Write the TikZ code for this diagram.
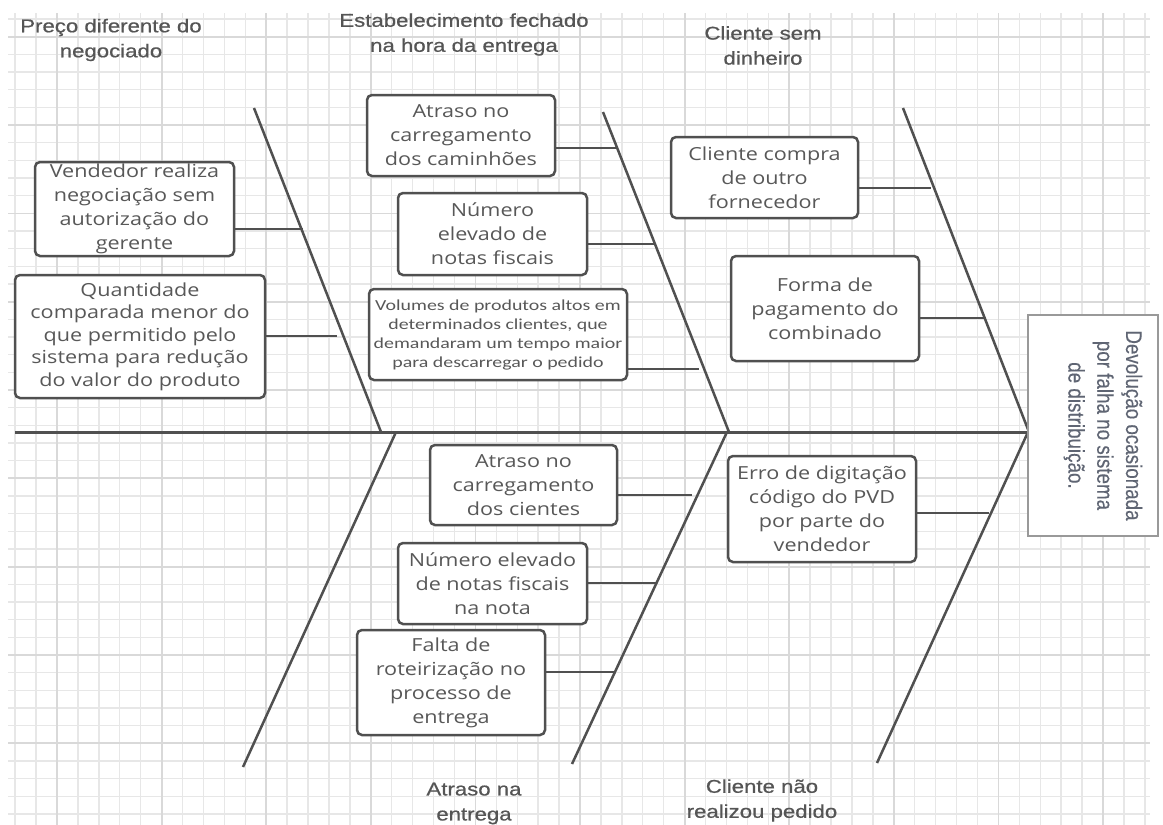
\documentclass[tikz,border=0pt]{standalone}
\usepackage{fontspec}
\usepackage{graphicx}
\setmainfont{Open Sans}[FakeStretch=1.2]
\newfontfamily\titlefont{Liberation Sans}[FakeStretch=1.2,FakeBold=0.6]
\newfontfamily\volfont{Carlito}[FakeStretch=1.3]
\newfontfamily\effectfont{Liberation Sans}[FakeBold=0.3]
\definecolor{ink}{HTML}{505050}
\definecolor{txt}{HTML}{585858}
\definecolor{ttl}{HTML}{555555}
\definecolor{gmin}{HTML}{E7E7E7}
\definecolor{gmaj}{HTML}{D9D9D9}
\definecolor{efx}{HTML}{5F6573}
\definecolor{efb}{HTML}{999999}
\begin{document}
\begin{tikzpicture}[x=1pt,y=-1pt,
  cause/.style={draw=ink, line width=2.5pt, rounded corners=5pt, fill=white, text=txt,
    align=center, inner sep=0pt, font=\fontsize{18}{24}\selectfont},
  bone/.style={draw=ink, line width=2.5pt},
  ttlstyle/.style={text=ttl, align=center, inner sep=0pt, font=\titlefont\fontsize{18.5}{25}\selectfont},
  gridminor/.style={draw=gmin, line width=1.4pt},
  gridmajor/.style={draw=gmaj, line width=1.8pt}]
\useasboundingbox (0,0) rectangle (1163,825);
\fill[white] (0,0) rectangle (1163,825);
% grid
\foreach \i in {-2,...,52} {\draw[gridminor] ({57+20.92*\i},13) -- ({57+20.92*\i},825);}
\foreach \i in {-36,...,9} {\draw[gridminor] (8,{655+17.664*\i}) -- (1150,{655+17.664*\i});}
\foreach \i in {0,...,10} {\draw[gridmajor] ({57+104.6*\i},13) -- ({57+104.6*\i},825);}
\foreach \i in {-7,...,1} {\draw[gridmajor] (8,{655+88.32*\i}) -- (1150,{655+88.32*\i});}

% skeleton coordinates
\coordinate (tail) at (15,432);
\coordinate (head) at (1028,432);
\coordinate (b1s) at (254,108);  \coordinate (b1e) at (381,432);
\coordinate (b2s) at (603,112);  \coordinate (b2e) at (729,432);
\coordinate (b3s) at (903,108);  \coordinate (b3e) at (1029,432);
\coordinate (b4s) at (396,432);  \coordinate (b4e) at (243,767);
\coordinate (b5s) at (727,432);  \coordinate (b5e) at (572,764);
\coordinate (b6s) at (1028,432); \coordinate (b6e) at (877,763);

\draw[bone, line width=3pt] (tail) -- (head);
\draw[bone] (b1s) -- (b1e);
\draw[bone] (b2s) -- (b2e);
\draw[bone] (b3s) -- (b3e);
\draw[bone] (b4s) -- (b4e);
\draw[bone] (b5s) -- (b5e);
\draw[bone] (b6s) -- (b6e);

% connector ends on the bones
\coordinate (cvend) at (303,229);
\coordinate (cquant) at (337,336);
\coordinate (ccarr) at (616,148);
\coordinate (cnum1) at (656,244);
\coordinate (cvol) at (699,369);
\coordinate (ccli) at (931,188);
\coordinate (cforma) at (986,318);
\coordinate (ccarr2) at (692,495);
\coordinate (cnum2) at (656,583);
\coordinate (cfalta) at (614,672);
\coordinate (cerro) at (989,513);

% cause boxes
\node[cause, minimum width=199pt, minimum height=94pt] (vend) at (134.5,209)
  {Vendedor realiza\\negociação sem\\autorização do\\gerente};
\node[cause, minimum width=250pt, minimum height=123pt, font=\fontsize{18}{22.5}\selectfont] (quant) at (140,336.5)
  {Quantidade\\comparada menor do\\que permitido pelo\\sistema para redução\\do valor do produto};
\node[cause, minimum width=188pt, minimum height=81pt] (carr) at (461,135.5)
  {Atraso no\\carregamento\\dos caminhões};
\node[cause, minimum width=189pt, minimum height=82pt] (num1) at (492.5,234)
  {Número\\elevado de\\notas fiscais};
\node[cause, minimum width=258pt, minimum height=91pt, font=\volfont\fontsize{15.3}{19}\selectfont] (vol) at (498,334.5)
  {Volumes de produtos altos em\\determinados clientes, que\\demandaram um tempo maior\\para descarregar o pedido};
\node[cause, minimum width=187pt, minimum height=81pt] (cli) at (764.5,177.5)
  {Cliente compra\\de outro\\fornecedor};
\node[cause, minimum width=188pt, minimum height=105pt] (forma) at (825,308.5)
  {Forma de\\pagamento do\\combinado};
\node[cause, minimum width=187pt, minimum height=80pt] (carr2) at (523.5,485)
  {Atraso no\\carregamento\\dos cientes};
\node[cause, minimum width=189pt, minimum height=81pt] (num2) at (492.5,583.5)
  {Número elevado\\de notas fiscais\\na nota};
\node[cause, minimum width=188pt, minimum height=105pt] (falta) at (451,682.5)
  {Falta de\\roteirização no\\processo de\\entrega};
\node[cause, minimum width=188pt, minimum height=106pt] (erro) at (822,509)
  {Erro de digitação\\código do PVD\\por parte do\\vendedor};

% connectors
\draw[bone] (vend.east |- cvend) -- (cvend);
\draw[bone] (quant.east |- cquant) -- (cquant);
\draw[bone] (carr.east |- ccarr) -- (ccarr);
\draw[bone] (num1.east |- cnum1) -- (cnum1);
\draw[bone] (vol.east |- cvol) -- (cvol);
\draw[bone] (cli.east |- ccli) -- (ccli);
\draw[bone] (forma.east |- cforma) -- (cforma);
\draw[bone] (carr2.east |- ccarr2) -- (ccarr2);
\draw[bone] (num2.east |- cnum2) -- (cnum2);
\draw[bone] (falta.east |- cfalta) -- (cfalta);
\draw[bone] (erro.east |- cerro) -- (cerro);

% category titles
\node[ttlstyle] (t1) at (111,40) {Preço diferente do\\negociado};
\node[ttlstyle] (t2) at (464,34.5) {Estabelecimento fechado\\na hora da entrega};
\node[ttlstyle] (t3) at (763,45.5) {Cliente sem\\dinheiro};
\node[ttlstyle] (t4) at (474,803.5) {Atraso na\\entrega};
\node[ttlstyle] (t5) at (762,800.5) {Cliente não\\realizou pedido};

% effect
\node[draw=efb, line width=1.5pt, fill=white, minimum width=130pt, minimum height=221pt, inner sep=0pt] (eff) at (1093,425.5) {};
\node[rotate=-90, text=efx, inner sep=0pt] (efftext) at (1103,425.5)
  {\scalebox{1}[1.2]{\effectfont\fontsize{18.8}{24}\selectfont
   \begin{tabular}{@{}c@{}}Devolução ocasionada\\por falha no sistema\\de distribuição.\end{tabular}}};
\end{tikzpicture}
\end{document}
